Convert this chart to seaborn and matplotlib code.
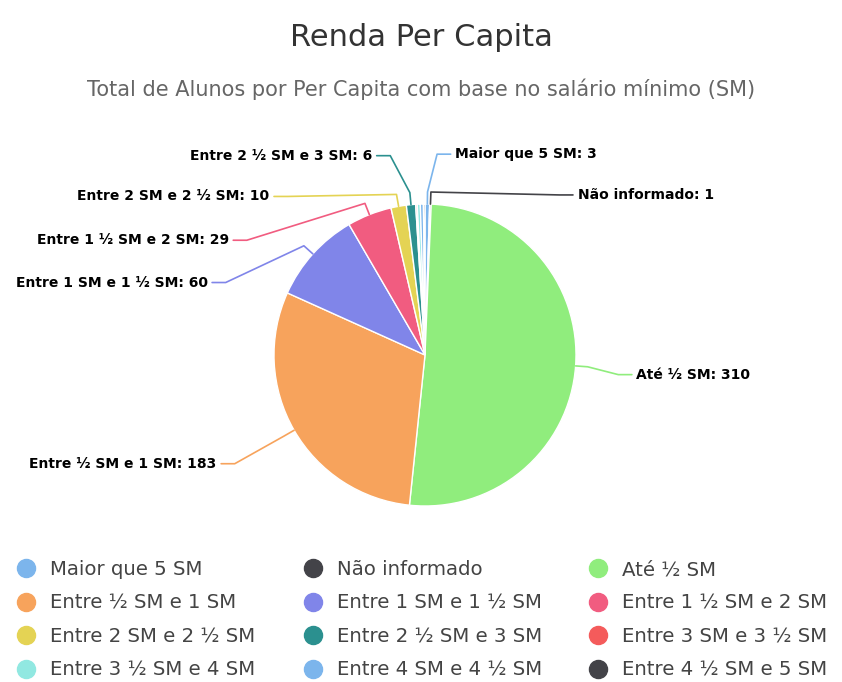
import numpy as np
import matplotlib
matplotlib.use("Agg")
import matplotlib.pyplot as plt
from matplotlib.lines import Line2D
import seaborn as sns

categories = ["Maior que 5 SM", "Não informado", "Até ½ SM", "Entre ½ SM e 1 SM",
              "Entre 1 SM e 1 ½ SM", "Entre 1 ½ SM e 2 SM", "Entre 2 SM e 2 ½ SM",
              "Entre 2 ½ SM e 3 SM", "Entre 3 SM e 3 ½ SM", "Entre 3 ½ SM e 4 SM",
              "Entre 4 SM e 4 ½ SM", "Entre 4 ½ SM e 5 SM"]
alunos = [3, 1, 310, 183, 60, 29, 10, 6, 1, 2, 2, 1]
colors = ["#7cb5ec", "#434348", "#90ed7d", "#f7a35c", "#8085e9", "#f15c80",
          "#e4d354", "#2b908f", "#f45b5b", "#91e8e1", "#7cb5ec", "#434348"]

# data labels that are visible in the original (anchor in pie-radius units)
label_pos = {
    "Maior que 5 SM": (0.20, 1.33),
    "Não informado": (1.01, 1.06),
    "Até ½ SM": (1.40, -0.13),
    "Entre ½ SM e 1 SM": (-1.38, -0.72),
    "Entre 1 SM e 1 ½ SM": (-1.44, 0.48),
    "Entre 1 ½ SM e 2 SM": (-1.30, 0.76),
    "Entre 2 SM e 2 ½ SM": (-1.03, 1.05),
    "Entre 2 ½ SM e 3 SM": (-0.35, 1.32),
}

sns.set_theme(style="white")
plt.rcParams["font.family"] = ["DejaVu Sans"]

W, H = 842, 682
cx, cy, R = 425, 355, 151  # pie centre / radius in pixels

fig = plt.figure(figsize=(W / 100, H / 100), dpi=100)
ax = fig.add_axes([0, 0, 1, 1])

wedges, _ = ax.pie(alunos, colors=colors, startangle=90, counterclock=False,
                   radius=1, wedgeprops=dict(edgecolor="white", linewidth=1))

ax.set_xlim(-cx / R, (W - cx) / R)
ax.set_ylim((cy - H) / R, cy / R)
ax.set_aspect("equal")
ax.axis("off")

# data labels with connectors
for w, name, val, col in zip(wedges, categories, alunos, colors):
    if name not in label_pos:
        continue
    lx, ly = label_pos[name]
    mid = np.deg2rad((w.theta1 + w.theta2) / 2)
    p0 = np.array([np.cos(mid), np.sin(mid)])
    p1 = p0 * 1.08
    side = 1 if lx > 0 else -1
    xs = [p0[0], p1[0], lx - side * 0.12, lx - side * 0.03]
    ys = [p0[1], p1[1], ly, ly]
    ax.plot(xs, ys, color=col, lw=1.2, solid_capstyle="round")
    ax.text(lx, ly, f"{name}: {val}", ha="left" if side > 0 else "right",
            va="center", fontsize=10, fontweight="bold", color="black")

fig.text(0.5, 1 - 38 / H, "Renda Per Capita", ha="center", va="center",
         fontsize=22, color="#333333")
fig.text(0.5, 1 - 89 / H, "Total de Alunos por Per Capita com base no salário mínimo (SM)",
         ha="center", va="center", fontsize=15, color="#666666")

# legend: three columns, filled row by row
handles = [Line2D([], [], marker="o", ls="", markersize=13, markerfacecolor=c,
                  markeredgecolor=c) for c in colors]
col_x = [16, 303, 588]
for j in range(3):
    idx = [j + 3 * i for i in range(4)]
    leg = fig.legend([handles[i] for i in idx], [categories[i] for i in idx],
                     loc="upper left", bbox_to_anchor=(col_x[j] / W, 1 - 560 / H),
                     frameon=False, fontsize=14.2, handlelength=1.0,
                     handletextpad=0.7, labelspacing=0.74, borderpad=0,
                     borderaxespad=0)
    for t in leg.get_texts():
        t.set_color("#444444")

fig.savefig("out.png", dpi=100, facecolor="white")
